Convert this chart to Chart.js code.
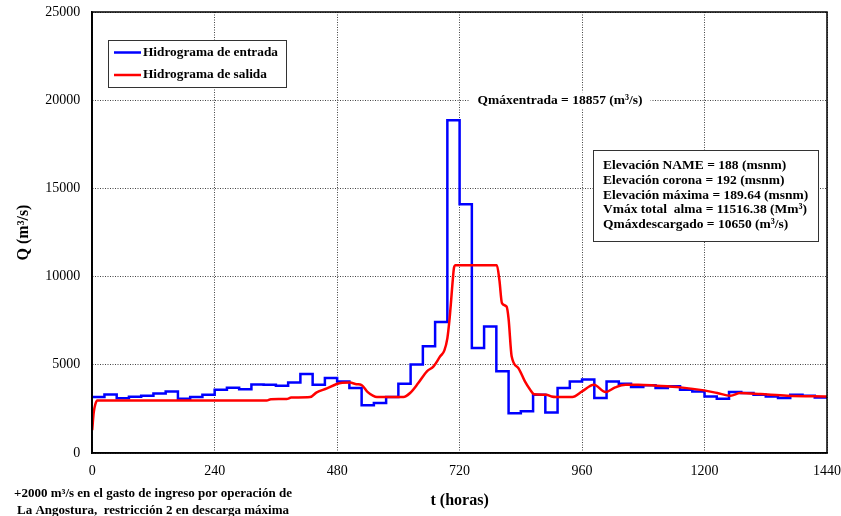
<!DOCTYPE html>
<html>
<head>
<meta charset="utf-8">
<script src="https://cdn.jsdelivr.net/npm/chart.js@4"></script>
<style>
  html, body { margin: 0; padding: 0; background: #fff; }
  #wrap { width: 841px; height: 516px; position: relative; }
</style>
</head>
<body>
<div id="wrap"><canvas id="hidro"></canvas></div>
<script>
// hidrograma de entrada, un valor por dia (60 dias, escalon cada 24 h)
const entradaQ = [3170, 3320, 3110, 3190, 3250, 3380, 3490, 3080, 3170, 3300,
                  3590, 3700, 3620, 3890, 3870, 3815, 3990, 4480, 3870, 4250,
                  4060, 3680, 2700, 2830, 3170, 3930, 5010, 6050, 7430, 18857,
                  14100, 5950, 7170, 4630, 2260, 2360, 3300, 2300, 3680, 4060,
                  4160, 3115, 4060, 3930, 3740, 3835, 3680, 3780, 3590, 3490,
                  3210, 3080, 3455, 3400, 3300, 3210, 3115, 3300, 3250, 3150]

// hidrograma de salida
const salidaT = [0, 3, 6, 10, 342, 350, 381, 390, 427, 440, 460, 478, 490, 505, 518, 528,
                 540, 550, 558, 610, 623, 639, 656, 669, 682, 690, 696, 700, 703, 706,
                 709, 712, 793, 798, 803, 812, 816, 822, 835, 848, 858, 866, 890, 900,
                 909, 941, 960, 983, 1006, 1025, 1045, 1070, 1106, 1153, 1199, 1225,
                 1251, 1270, 1310, 1362, 1440]
const salidaQ = [1300, 2300, 2750, 2980, 2980, 3050, 3060, 3140, 3170, 3440, 3660, 3900, 3980, 3990, 3900, 3850,
                 3450, 3250, 3170, 3170, 3400, 3965, 4630, 4910, 5480, 5800, 6500, 7500, 8500, 9600,
                 10500, 10650, 10650, 9800, 8500, 8300, 7600, 5480, 4820, 4060, 3600, 3330, 3300, 3200,
                 3170, 3170, 3490, 3870, 3455, 3720, 3870, 3870, 3815, 3720, 3550, 3400,
                 3250, 3400, 3340, 3250, 3210]

const xTicks = [0, 240, 480, 720, 960, 1200, 1440]
const yTicks = [0, 5000, 10000, 15000, 20000, 25000]

const legendItems = ["Hidrograma de entrada", "Hidrograma de salida"]
const infoLines = [
  "Elevación NAME = 188 (msnm)",
  "Elevación corona = 192 (msnm)",
  "Elevación máxima = 189.64 (msnm)",
  "Vmáx total  alma = 11516.38 (Mm³)",
  "Qmáxdescargado = 10650 (m³/s)"
]
const picoTexto = "Qmáxentrada = 18857 (m³/s)"
const nota = ["+2000 m³/s en el gasto de ingreso por operación de",
              "La Angostura,  restricción 2 en descarga máxima"]

const serif = "'Liberation Serif', 'Times New Roman', serif"

const entradaPts = entradaQ.map((q, i) => ({x: i * 24, y: q}))
entradaPts.push({x: 1440, y: entradaQ[entradaQ.length - 1]})
const salidaPts = salidaT.map((t, i) => ({x: t, y: salidaQ[i]}))

//draws boxes and texts on top of the plot
const extras = {
  id: "extras",
  afterDraw(chart) {
    const ctx = chart.ctx
    const a = chart.chartArea
    const ys = chart.scales.y
    ctx.save()

    // marco
    ctx.strokeStyle = "#000"
    ctx.lineWidth = 1.5
    ctx.strokeRect(a.left, a.top, a.right - a.left, a.bottom - a.top)

    // texto del pico
    ctx.font = "bold 13.5px " + serif
    ctx.textBaseline = "middle"
    ctx.textAlign = "center"
    const px = 560, py = ys.getPixelForValue(20000)
    const w = ctx.measureText(picoTexto).width
    ctx.fillStyle = "#fff"
    ctx.fillRect(px - w / 2 - 8, py - 8, w + 16, 16)
    ctx.fillStyle = "#000"
    ctx.fillText(picoTexto, px, py)

    // leyenda
    ctx.font = "bold 13.3px " + serif
    ctx.fillStyle = "#fff"
    ctx.fillRect(108.5, 40.5, 178, 47)
    ctx.strokeStyle = "#333"
    ctx.lineWidth = 1
    ctx.strokeRect(108.5, 40.5, 178, 47)
    const cols = ["#0000ff", "#ff0000"]
    legendItems.forEach((lab, i) => {
      const y = 52.5 + i * 22.5
      ctx.strokeStyle = cols[i]
      ctx.lineWidth = 2.5
      ctx.beginPath()
      ctx.moveTo(114, y)
      ctx.lineTo(141, y)
      ctx.stroke()
      ctx.fillStyle = "#000"
      ctx.textAlign = "left"
      ctx.fillText(lab, 143, y)
    })

    // cuadro de datos
    ctx.fillStyle = "#fff"
    ctx.fillRect(593.5, 150.5, 225, 91)
    ctx.strokeStyle = "#333"
    ctx.lineWidth = 1
    ctx.strokeRect(593.5, 150.5, 225, 91)
    ctx.fillStyle = "#000"
    ctx.font = "bold 13.5px " + serif
    infoLines.forEach((s, i) => {
      ctx.fillText(s, 603, 166 + i * 14.6)
    })

    // nota inferior
    ctx.font = "bold 13px " + serif
    ctx.textAlign = "center"
    nota.forEach((s, i) => ctx.fillText(s, 153, 494 + i * 17))

    ctx.restore()
  }
}

new Chart(document.getElementById("hidro"), {
  type: "line",
  data: {
    datasets: [
      {
        label: legendItems[0],
        data: entradaPts,
        borderColor: "#0000ff",
        borderWidth: 2.5,
        pointRadius: 0,
        stepped: true,
        order: 1
      },
      {
        label: legendItems[1],
        data: salidaPts,
        borderColor: "#ff0000",
        borderWidth: 2.5,
        pointRadius: 0,
        tension: 0.3,
        cubicInterpolationMode: "monotone",
        order: 0
      }
    ]
  },
  options: {
    responsive: true,
    maintainAspectRatio: false,
    animation: false,
    layout: {padding: {left: 14, right: 14, top: 12, bottom: 6}},
    plugins: {legend: {display: false}, tooltip: {enabled: false}},
    scales: {
      x: {
        type: "linear",
        min: 0,
        max: 1440,
        afterBuildTicks: s => { s.ticks = xTicks.map(v => ({value: v})) },
        afterFit: s => { s.paddingLeft = 0; s.paddingRight = 0 },
        ticks: {color: "#000", padding: 10, font: {family: serif, size: 14}, maxRotation: 0,
                callback: v => String(v)},
        grid: {color: "#444", lineWidth: 1, drawTicks: false},
        border: {display: true, color: "#000", width: 1.5, dash: [1, 1.5]},
        title: {display: true, text: "t (horas)", color: "#000", padding: {top: 1, bottom: 0},
                font: {family: serif, size: 16, weight: "bold"}}
      },
      y: {
        min: 0,
        max: 25000,
        afterBuildTicks: s => { s.ticks = yTicks.map(v => ({value: v})) },
        afterFit: s => { s.paddingTop = 0; s.paddingBottom = 0 },
        ticks: {color: "#000", padding: 12, font: {family: serif, size: 14}, callback: v => String(v)},
        grid: {color: "#444", lineWidth: 1, drawTicks: false},
        border: {display: true, color: "#000", width: 1.5, dash: [1, 1.5]},
        title: {display: true, text: "Q (m³/s)", color: "#000", padding: {top: 0, bottom: 0},
                font: {family: serif, size: 16, weight: "bold"}}
      }
    }
  },
  plugins: [extras]
})
</script>
</body>
</html>
